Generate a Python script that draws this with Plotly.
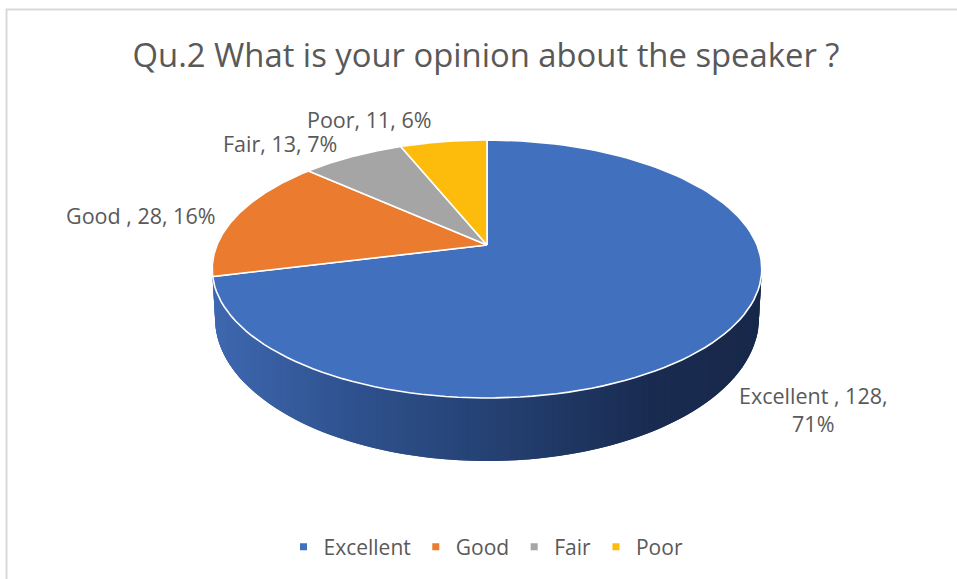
import numpy as np
import plotly.graph_objects as go

categories = ["Excellent ", "Good ", "Fair", "Poor"]
values = [128, 28, 13, 11]
colors = ["#4170BE", "#EB7B2E", "#A5A5A5", "#FDBC0C"]
title_text = "Qu.2 What is your opinion about the speaker ?"
TEXT = "#595959"

# geometry of the tilted pie, in page pixels
CX, CY, AX, BY, P = 487, 245, 270, 124.5, 0.186
BOTTOM_RX, BOTTOM_CY, BOTTOM_RY = 272, 318, 143
W, H = 957, 579


def project(theta):
    u, v = np.sin(theta), np.cos(theta)
    d = 1 + P * v
    return CX + AX * u / d, CY - BY * v / d


def bottom_rim(x):
    u = np.clip((x - CX) / BOTTOM_RX, -1, 1)
    return CX + BOTTOM_RX * u, BOTTOM_CY + BOTTOM_RY * np.sqrt(1 - u ** 2)


def lerp_color(t):
    stops = [(0.0, (62, 104, 176)), (0.25, (47, 82, 143)), (0.55, (35, 62, 110)), (0.8, (25, 43, 80)), (1.0, (23, 40, 74))]
    for (a, ca), (b, cb) in zip(stops, stops[1:]):
        if t <= b:
            f = (t - a) / (b - a)
            c = [round(x + (y - x) * f) for x, y in zip(ca, cb)]
            return "rgb(%d,%d,%d)" % tuple(c)
    return "rgb(23,40,74)"


fig = go.Figure()

total = sum(values)
edges = np.cumsum([0] + values) / total * 2 * np.pi

# side wall: overlapping strips along the visible front of the rim
rim = np.linspace(np.pi / 2 - 0.02, 3 * np.pi / 2 + 0.32, 161)
xs0, _ = project(rim)
for i in range(len(rim) - 2):
    th = rim[i:i + 3]
    xa, ya = project(th)
    xb, yb = bottom_rim(xa[::-1])
    t = (xa[:2].mean() - xs0.min()) / (xs0.max() - xs0.min())
    col = lerp_color(t)
    fig.add_trace(go.Scatter(
        x=list(xa) + list(xb), y=list(ya) + list(yb), mode="lines", fill="toself",
        fillcolor=col, line=dict(color=col, width=0), hoverinfo="skip", showlegend=False))

# top face
for cat, col, a, b in zip(categories, colors, edges[:-1], edges[1:]):
    th = np.linspace(a, b, 120)
    x, y = project(th)
    fig.add_trace(go.Scatter(
        x=[CX] + list(x) + [CX], y=[CY] + list(y) + [CY], mode="lines", fill="toself",
        fillcolor=col, line=dict(color="white", width=1.6), name=cat, hoverinfo="skip",
        showlegend=False))

# legend entries
for cat, col in zip(categories, colors):
    fig.add_trace(go.Scatter(x=[None], y=[None], mode="markers", name=cat.strip(),
                             marker=dict(symbol="square", size=7, color=col)))

# data labels
label_pos = [(813, 409), (140, 215), (280, 143), (369, 119)]
for cat, v, (lx, ly) in zip(categories, values, label_pos):
    pct = round(v / total * 100)
    txt = f"{cat}, {v},<br>{pct}%" if v == max(values) else f"{cat}, {v}, {pct}%"
    fig.add_annotation(x=lx, y=ly, text=txt, showarrow=False, xanchor="center", yanchor="middle",
                       font=dict(size=21.5, color=TEXT, family="Open Sans"))

fig.update_layout(
    width=W, height=H, margin=dict(l=0, r=0, t=0, b=0),
    paper_bgcolor="white", plot_bgcolor="white",
    title=dict(text=title_text, x=486 / W, y=1 - 56 / H, xanchor="center", yanchor="middle",
               font=dict(size=32.8, color=TEXT, family="Open Sans")),
    xaxis=dict(range=[0, W], visible=False, fixedrange=True),
    yaxis=dict(range=[H, 0], visible=False, fixedrange=True),
    showlegend=True,
    legend=dict(orientation="h", x=486 / W, y=1 - 547 / H, xanchor="center", yanchor="middle",
                font=dict(size=21, color=TEXT, family="Open Sans"), bgcolor="rgba(0,0,0,0)"),
    shapes=[dict(type="rect", x0=6.5, y0=9.5, x1=W + 10, y1=H + 10, line=dict(color="#D9D9D9", width=2),
                 fillcolor="rgba(0,0,0,0)", layer="below")],
)
fig.write_html("out.html", config={"displayModeBar": False},
               post_script="document.body.style.margin='0';document.documentElement.style.overflow='hidden';")
